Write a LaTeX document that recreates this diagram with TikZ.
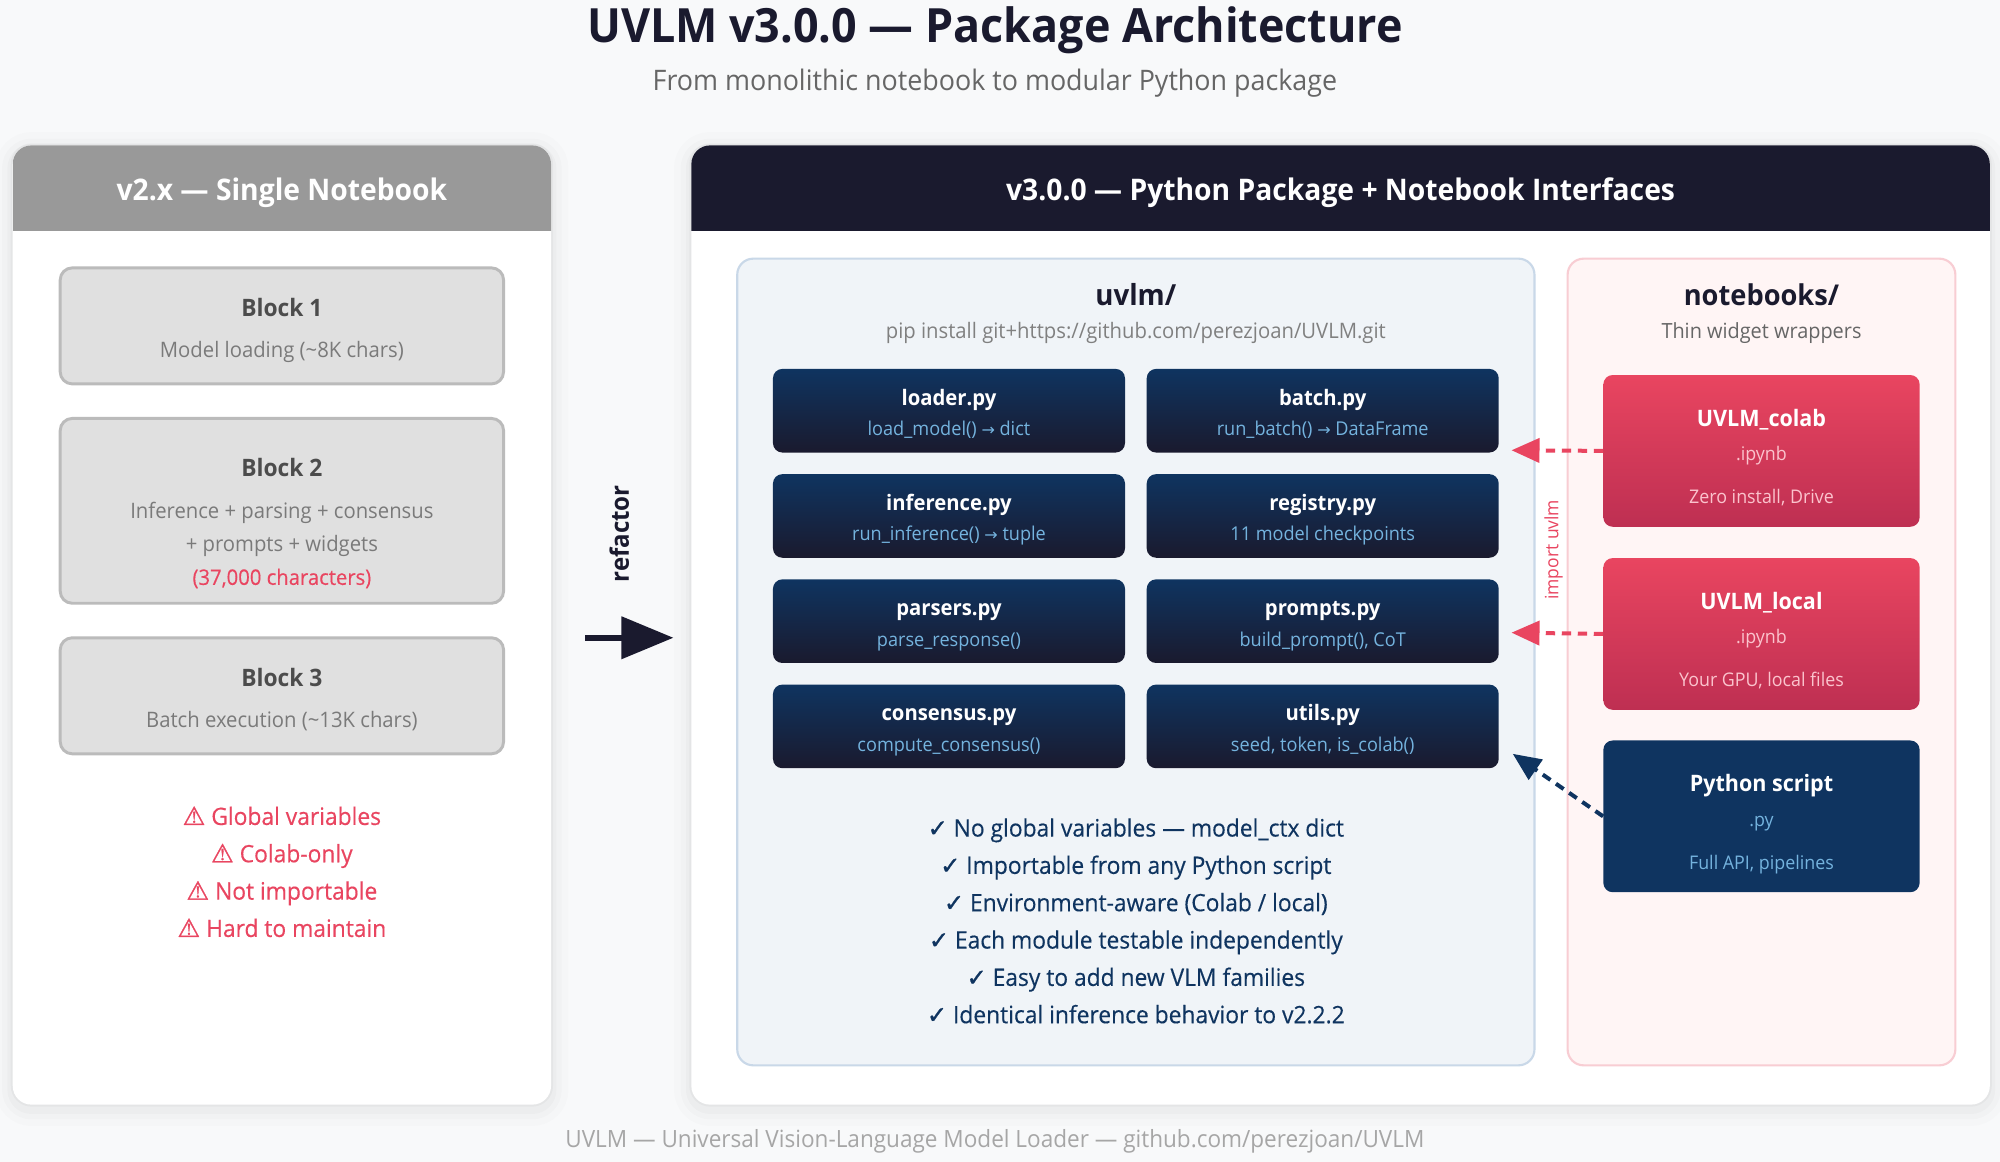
\documentclass[tikz,border=0pt]{standalone}
\usepackage{fontspec}
\setmainfont[FakeStretch=0.95]{Open Sans}
\newfontfamily\medfont[FakeStretch=0.95,FakeBold=0.35]{Open Sans}
\newfontfamily\symfont{DejaVu Sans}
\newfontfamily\symheavy[FakeBold=1.2]{DejaVu Sans}
\usetikzlibrary{arrows.meta}

\definecolor{pagebg}{HTML}{F8F9FA}
\definecolor{navy}{HTML}{1A1A2E}
\definecolor{deepblue}{HTML}{0F3460}
\definecolor{skyblue}{HTML}{74B3DE}
\definecolor{rosered}{HTML}{E94560}
\definecolor{darkrose}{HTML}{BE2F52}
\definecolor{palepink}{HTML}{FBC3CD}
\definecolor{headgrey}{HTML}{999999}
\definecolor{blockgrey}{HTML}{E0E0E0}
\definecolor{blockline}{HTML}{BBBBBB}
\definecolor{pkgfill}{HTML}{F0F4F8}
\definecolor{pkgline}{HTML}{C9D8E8}
\definecolor{nbfill}{HTML}{FFF5F5}
\definecolor{nbline}{HTML}{F8CDD3}

\newcommand{\blocktitle}[2]{\rule{0pt}{#1}{\fontsize{18}{31}\selectfont\bfseries\color{black!70}#2}}
\newcommand{\modbody}[2]{\rule{0pt}{19.5pt}{\fontsize{16}{23}\selectfont\bfseries\color{white}#1}\\#2\rule[-5pt]{0pt}{5pt}}
\newcommand{\nbbody}[3]{\rule{0pt}{26pt}{\fontsize{17}{26}\selectfont\bfseries\color{white}#1}\\#2\\[6pt]#3\rule[-5pt]{0pt}{5pt}}
\newcommand{\rarrow}{{\symfont\fontsize{12}{23}\selectfont →}}
\newcommand{\warnmark}{{\symheavy\fontsize{19}{28}\selectfont ⚠}}
\newcommand{\tickmark}{{\symheavy ✓}}

\begin{document}
\begin{tikzpicture}[x=0.9566pt,y=-0.9566pt,
    card/.style={rectangle,rounded corners=14pt,fill=white,inner sep=0pt,minimum width=403.7pt,minimum height=719.4pt,
      preaction={draw=black,draw opacity=.012,line width=26pt,transform canvas={yshift=-3pt}},
      preaction={draw=black,draw opacity=.015,line width=16pt,transform canvas={yshift=-3pt}},
      preaction={draw=black,draw opacity=.02,line width=8pt,transform canvas={yshift=-3pt}},
      preaction={draw=black,draw opacity=.03,line width=3pt}},
    headfill/.style={path picture={\fill[#1,sharp corners] (path picture bounding box.north west) rectangle ++(1100,67);}},
    headtext/.style={font=\fontsize{22.3}{26}\selectfont\bfseries,text=white},
    blockbox/.style={rectangle,rounded corners=9pt,draw=blockline,line width=2.2pt,fill=blockgrey,inner sep=0pt,
      minimum width=332.5pt,align=center,text=black!52,font=\fontsize{16}{31}\selectfont},
    pkgbox/.style={rectangle,rounded corners=12pt,line width=1.6pt,inner sep=0pt,minimum height=605pt},
    modbox/.style={rectangle,rounded corners=7pt,top color=deepblue,bottom color=navy,inner sep=0pt,
      minimum width=264pt,minimum height=62.7pt,align=center,text=skyblue,font=\fontsize{14.3}{23}\selectfont},
    nbbox/.style={rectangle,rounded corners=7pt,inner sep=0pt,minimum width=237.2pt,minimum height=113.8pt,
      align=center,font=\fontsize{14.1}{26}\selectfont},
    redbox/.style={nbbox,top color=rosered,bottom color=darkrose,text=palepink},
    bluebox/.style={nbbox,fill=deepblue,text=skyblue},
    importline/.style={-{Triangle[length=21pt,width=18pt]},dash pattern=on 7pt off 5pt,line width=3pt}
  ]
  \useasboundingbox[fill=pagebg] (0,0) rectangle (1568,911);

  % title
  \node[font=\fontsize{35.4}{42}\selectfont\bfseries,text=navy] (title) at (780,24) {UVLM v3.0.0 — Package Architecture};
  \node[font=\fontsize{21.2}{24}\selectfont,text=black!60] (subtitle) at (780,65) {From monolithic notebook to modular Python package};
  \node[font=\fontsize{17.8}{20}\selectfont,text=black!35] (footer) at (780,895) {UVLM — Universal Vision-Language Model Loader — github.com/perezjoan/UVLM};

  % left card
  \node[card,headfill=headgrey] (oldcard) at (221,490) {};
  \node[headtext] (oldhead) at (221,151) {v2.x — Single Notebook};
  \node[blockbox,minimum height=87pt] (blockA) at (221,255.5) {\blocktitle{21.5pt}{Block 1}\\Model loading (\textasciitilde8K chars)\rule[-5pt]{0pt}{5pt}};
  \node[blockbox,minimum height=138.6pt] (blockB) at (221,400.5) {\blocktitle{35pt}{Block 2}\\Inference + parsing + consensus\\[-6pt]+ prompts + widgets\\[-6pt]{\color{rosered}\medfont (37,000 characters)}\rule[-5pt]{0pt}{5pt}};
  \node[blockbox,minimum height=87pt] (blockC) at (221,545.5) {\blocktitle{21.5pt}{Block 3}\\Batch execution (\textasciitilde13K chars)\rule[-5pt]{0pt}{5pt}};
  \node[align=center,text=rosered,font=\fontsize{18}{28}\selectfont\medfont] (warnings) at (221,683.5) {\warnmark{} Global variables\\\warnmark{} Colab-only\\\warnmark{} Not importable\\\warnmark{} Hard to maintain};

  % refactor arrow
  \coordinate (refstart) at (459,500);
  \coordinate (refend) at (528,500);
  \draw[navy,line width=4.5pt,-{Triangle[length=39pt,width=31pt]}] (refstart) -- (refend);
  \node[rotate=90,text=navy,font=\fontsize{19}{22}\selectfont\bfseries] (reflabel) at (485.5,418.5) {refactor};

  % right card
  \node[card,minimum width=973.8pt,headfill=navy] (newcard) at (1051,490) {};
  \node[headtext] (newhead) at (1051,151) {v3.0.0 — Python Package + Notebook Interfaces};

  % uvlm package
  \node[pkgbox,draw=pkgline,fill=pkgfill,minimum width=597.9pt] (uvlmbox) at (890.5,519) {};
  \node[text=navy,font=\fontsize{21.8}{26}\selectfont\bfseries] (uvlmname) at (890.5,231) {uvlm/};
  \node[text=black!50,font=\fontsize{16}{18}\selectfont] (uvlminstall) at (890.5,261) {pip install git+https://github.com/perezjoan/UVLM.git};

  \node[modbox] (loader) at (744,322) {\modbody{loader.py}{load\_model() \rarrow{} dict}};
  \node[modbox] (batch) at (1037,322) {\modbody{batch.py}{run\_batch() \rarrow{} DataFrame}};
  \node[modbox] (inference) at (744,404.5) {\modbody{inference.py}{run\_inference() \rarrow{} tuple}};
  \node[modbox] (registry) at (1037,404.5) {\modbody{registry.py}{11 model checkpoints}};
  \node[modbox] (parsers) at (744,487) {\modbody{parsers.py}{parse\_response()}};
  \node[modbox] (prompts) at (1037,487) {\modbody{prompts.py}{build\_prompt(), CoT}};
  \node[modbox] (consensus) at (744,569.5) {\modbody{consensus.py}{compute\_consensus()}};
  \node[modbox] (utils) at (1037,569.5) {\modbody{utils.py}{seed, token, is\_colab()}};

  \node[align=center,text=deepblue,font=\fontsize{18}{28}\selectfont\medfont] (benefits) at (890.5,722) {\tickmark{} No global variables — model\_ctx dict\\\tickmark{} Importable from any Python script\\\tickmark{} Environment-aware (Colab / local)\\\tickmark{} Each module testable independently\\\tickmark{} Easy to add new VLM families\\\tickmark{} Identical inference behavior to v2.2.2};

  % notebooks
  \node[pkgbox,draw=nbline,fill=nbfill,minimum width=290.8pt] (nbookbox) at (1381,519) {};
  \node[text=navy,font=\fontsize{21.5}{26}\selectfont\bfseries] (nbookname) at (1381,231) {notebooks/};
  \node[text=black!60,font=\fontsize{15.7}{18}\selectfont] (nbookthin) at (1381,261) {Thin widget wrappers};

  \node[redbox] (colab) at (1381,353.5) {\nbbody{UVLM\_colab}{.ipynb}{Zero install, Drive}};
  \node[redbox] (local) at (1381,497) {\nbbody{UVLM\_local}{.ipynb}{Your GPU, local files}};
  \node[bluebox] (script) at (1381,640) {\nbbody{Python script}{.py}{Full API, pipelines}};

  % imports
  \coordinate (colabtip) at (1185,353);
  \coordinate (localtip) at (1185,496);
  \coordinate (scripttip) at (1186,591);
  \draw[importline,rosered] (colab.west) -- (colabtip);
  \draw[importline,rosered] (local.west) -- (localtip);
  \draw[importline,deepblue] (script.west) -- (scripttip);
  \node[rotate=90,text=rosered,font=\fontsize{13.8}{16}\selectfont] (importlabel) at (1218,431) {import uvlm};
\end{tikzpicture}
\end{document}
